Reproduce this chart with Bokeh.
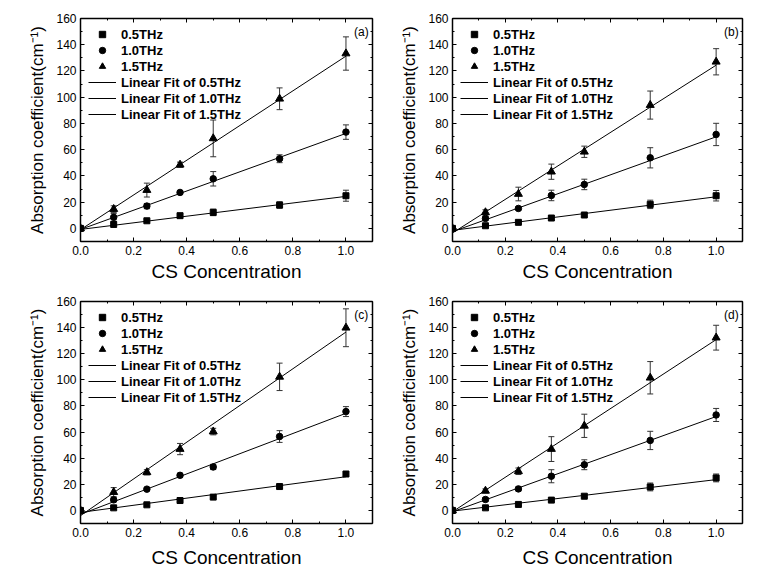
from bokeh.plotting import figure
from bokeh.models import (Range1d, LinearAxis, SingleIntervalTicker, NumeralTickFormatter,
                          ColumnDataSource, Whisker, TeeHead, Legend, LegendItem, Label)
from bokeh.layouts import column, row
from bokeh.embed import file_html
from bokeh.resources import INLINE

# ---------------- data ----------------
conc = [0.0, 0.125, 0.25, 0.375, 0.5, 0.75, 1.0]
fit_x = [0.0, 1.0]
series_labels = ["0.5THz", "1.0THz", "1.5THz"]
fit_labels = ["Linear Fit of 0.5THz", "Linear Fit of 1.0THz", "Linear Fit of 1.5THz"]

# panel (a)
a_05 = [0, 3.0, 5.8, 9.7, 12.2, 17.8, 24.9]
a_05_err = [0, 1.0, 1.0, 1.5, 2.5, 2.5, 4.2]
a_10 = [0, 8.4, 17.0, 27.4, 37.8, 53.1, 73.4]
a_10_err = [0, 3.0, 2.0, 1.0, 5.5, 3.0, 5.5]
a_15 = [0, 14.7, 29.2, 48.5, 68.6, 98.8, 133.3]
a_15_err = [0, 2.5, 5.3, 2.0, 14.0, 8.3, 12.7]
a_fit_05 = [-0.8, 24.4]
a_fit_10 = [-0.8, 72.4]
a_fit_15 = [-1.0, 131.3]

# panel (b)
b_05 = [0, 2.0, 4.6, 7.9, 10.2, 18.3, 24.9]
b_05_err = [0, 1.0, 1.0, 1.5, 1.0, 3.2, 4.0]
b_10 = [0, 7.6, 15.2, 25.1, 33.5, 53.8, 71.6]
b_10_err = [0, 1.5, 1.0, 4.0, 4.0, 7.7, 8.5]
b_15 = [0, 12.2, 26.2, 43.2, 58.4, 94.0, 127.0]
b_15_err = [0, 2.0, 5.2, 5.8, 4.3, 10.7, 10.0]
b_fit_05 = [-1.5, 24.1]
b_fit_10 = [-2.5, 69.8]
b_fit_15 = [-3.5, 124.4]

# panel (c)
c_05 = [0, 2.0, 4.3, 7.6, 10.2, 18.3, 27.9]
c_05_err = [0, 1.0, 1.0, 1.0, 1.0, 1.5, 1.5]
c_10 = [0, 8.1, 16.3, 26.9, 33.3, 56.6, 75.7]
c_10_err = [0, 1.5, 1.0, 1.5, 2.0, 4.5, 3.8]
c_15 = [0, 14.0, 29.2, 47.0, 60.4, 102.3, 139.9]
c_15_err = [0, 3.5, 2.0, 4.3, 2.5, 10.5, 14.5]
c_fit_05 = [-1.5, 25.8]
c_fit_10 = [-3.0, 74.4]
c_fit_15 = [-4.0, 136.6]

# panel (d)
d_05 = [0, 2.0, 4.6, 7.9, 10.9, 18.0, 24.9]
d_05_err = [0, 1.0, 1.0, 1.0, 1.0, 3.0, 3.0]
d_10 = [0, 8.4, 16.5, 26.2, 35.0, 53.6, 73.1]
d_10_err = [0, 1.5, 1.5, 5.0, 3.8, 7.0, 5.0]
d_15 = [0, 15.0, 30.0, 47.0, 64.8, 101.6, 132.3]
d_15_err = [0, 1.5, 2.5, 9.5, 8.9, 12.4, 9.5]
d_fit_05 = [-0.5, 23.6]
d_fit_10 = [-1.0, 71.9]
d_fit_15 = [-1.0, 130.8]

x_ticks_interval = 0.2
y_ticks_interval = 20

FONT = "Liberation Sans"
markers = ["square", "circle", "triangle"]
marker_sizes = [6, 6.5, 8]


def style_axis(ax, ticker, show_labels):
    ax.ticker = ticker
    ax.major_tick_in = 4
    ax.major_tick_out = 0
    ax.minor_tick_in = 2
    ax.minor_tick_out = 0
    ax.axis_line_width = 1.5
    ax.axis_line_color = "black"
    ax.major_tick_line_color = "black"
    ax.minor_tick_line_color = "black"
    ax.major_label_text_font = FONT
    ax.axis_label_text_font = FONT
    ax.axis_label_text_font_style = "normal"
    ax.axis_label_text_color = "black"
    if show_labels:
        ax.major_label_text_color = "black"
        ax.major_label_text_font_size = "12px"
        ax.major_label_standoff = 4
    else:
        ax.major_label_text_color = None
        ax.major_label_text_font_size = "1px"
        ax.major_label_standoff = 0


def make_panel(tag, ys, errs, fits, left, right, top, bottom, fw, fh, xlab_standoff):
    p = figure(x_range=Range1d(0, 1.1), y_range=Range1d(-10, 160),
               frame_width=fw, frame_height=fh,
               min_border_left=left, min_border_right=right,
               min_border_top=top, min_border_bottom=bottom,
               output_backend="svg", toolbar_location=None)
    p.grid.visible = False
    p.outline_line_color = None
    p.background_fill_color = "white"
    p.border_fill_color = "white"

    xt = SingleIntervalTicker(interval=x_ticks_interval, num_minor_ticks=2)
    yt = SingleIntervalTicker(interval=y_ticks_interval, num_minor_ticks=2)
    style_axis(p.xaxis[0], xt, True)
    style_axis(p.yaxis[0], yt, True)
    p.xaxis[0].formatter = NumeralTickFormatter(format="0.0")
    p.xaxis[0].axis_label = "CS Concentration"
    p.xaxis[0].axis_label_text_font_size = "19px"
    p.xaxis[0].axis_label_standoff = xlab_standoff
    p.yaxis[0].axis_label = "Absorption coefficient(cm\u207b\u00b9)"
    p.yaxis[0].axis_label_text_font_size = "17px"
    p.yaxis[0].axis_label_standoff = 6

    top_ax = LinearAxis()
    style_axis(top_ax, SingleIntervalTicker(interval=x_ticks_interval, num_minor_ticks=2), False)
    p.add_layout(top_ax, "above")
    right_ax = LinearAxis()
    style_axis(right_ax, SingleIntervalTicker(interval=y_ticks_interval, num_minor_ticks=2), False)
    p.add_layout(right_ax, "right")

    point_renderers = []
    fit_renderers = []
    for y, e, f, m, ms in zip(ys, errs, fits, markers, marker_sizes):
        src = ColumnDataSource(dict(x=conc, y=y,
                                    upper=[v + d for v, d in zip(y, e)],
                                    lower=[v - d for v, d in zip(y, e)]))
        fr = p.line(fit_x, f, line_color="black", line_width=1)
        fit_renderers.append(fr)
        w = Whisker(base="x", upper="upper", lower="lower", source=src,
                    dimension="height", line_color="#333333", line_width=1,
                    upper_head=TeeHead(size=6, line_color="#333333", line_width=1),
                    lower_head=TeeHead(size=6, line_color="#333333", line_width=1))
        p.add_layout(w)
        r = p.scatter("x", "y", source=src, marker=m, size=ms,
                      fill_color="black", line_color="black")
        point_renderers.append(r)

    items = [LegendItem(label=l, renderers=[r]) for l, r in zip(series_labels, point_renderers)]
    items += [LegendItem(label=l, renderers=[r]) for l, r in zip(fit_labels, fit_renderers)]
    legend = Legend(items=items, location="top_left", margin=4, padding=4,
                    border_line_alpha=0, background_fill_alpha=0,
                    label_text_font=FONT, label_text_font_style="bold",
                    label_text_font_size="13px", label_text_color="black",
                    glyph_width=28, glyph_height=16, label_height=16,
                    spacing=0, label_standoff=5)
    p.add_layout(legend)

    p.add_layout(Label(x=1.058, y=150, text=tag, text_align="center",
                       text_baseline="middle", text_font=FONT,
                       text_font_size="12px", text_color="black"))
    return p


pa = make_panel("(a)", [a_05, a_10, a_15], [a_05_err, a_10_err, a_15_err],
                [a_fit_05, a_fit_10, a_fit_15], 80, 14, 18, 49, 292, 223, 3)
pb = make_panel("(b)", [b_05, b_10, b_15], [b_05_err, b_10_err, b_15_err],
                [b_fit_05, b_fit_10, b_fit_15], 66, 30, 18, 49, 290, 223, 3)
pc = make_panel("(c)", [c_05, c_10, c_15], [c_05_err, c_10_err, c_15_err],
                [c_fit_05, c_fit_10, c_fit_15], 80, 14, 11, 57, 292, 222, 7)
pd = make_panel("(d)", [d_05, d_10, d_15], [d_05_err, d_10_err, d_15_err],
                [d_fit_05, d_fit_10, d_fit_15], 66, 30, 11, 57, 290, 222, 7)

layout = column(row(pa, pb), row(pc, pd))

with open("out.html", "w") as fh:
    fh.write(file_html(layout, INLINE))
